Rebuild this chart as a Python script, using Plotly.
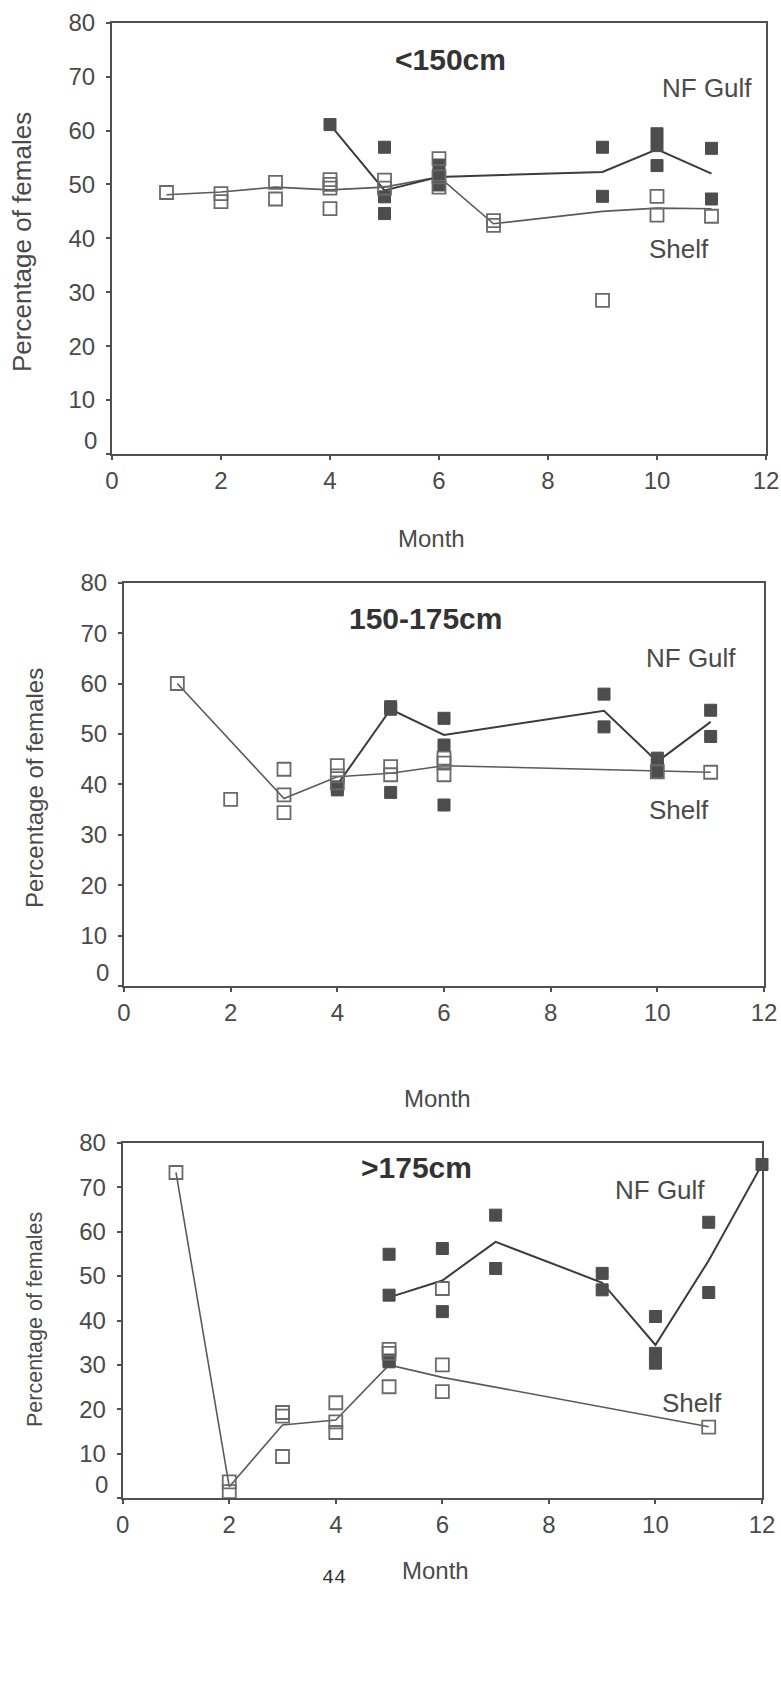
import plotly.graph_objects as go

# ---------------- data ----------------
# Panel 1: <150cm
p1_shelf_month = [1, 2, 2, 3, 3, 4, 4, 4, 4, 5, 5, 6, 6, 6, 7, 7, 9, 10, 10, 11]
p1_shelf_pct   = [48.5, 48.3, 46.8, 50.4, 47.3, 50.9, 50.0, 49.3, 45.5, 50.8, 49.3, 54.8, 51.4, 49.5, 43.3, 42.4, 28.5, 47.8, 44.3, 44.1]
p1_gulf_month  = [4, 5, 5, 5, 6, 6, 6, 9, 9, 10, 10, 10, 11, 11]
p1_gulf_pct    = [61.1, 56.9, 47.7, 44.6, 53.6, 51.8, 49.9, 56.9, 47.8, 59.4, 57.2, 53.5, 56.7, 47.3]
p1_shelf_line_month = [1, 2, 3, 4, 5, 6, 7, 9, 10, 11]
p1_shelf_line_pct   = [48.1, 48.6, 49.5, 49.0, 49.5, 51.4, 42.7, 45.0, 45.6, 45.5]
p1_gulf_line_month  = [4, 5, 6, 9, 10, 11]
p1_gulf_line_pct    = [61.1, 48.9, 51.4, 52.3, 56.5, 52.0]

# Panel 2: 150-175cm
p2_shelf_month = [1, 2, 3, 3, 3, 4, 4, 4, 5, 5, 6, 6, 6, 10, 11]
p2_shelf_pct   = [60.0, 37.0, 43.0, 37.9, 34.4, 43.7, 41.7, 40.3, 43.5, 41.9, 45.2, 44.2, 41.9, 42.5, 42.4]
p2_gulf_month  = [4, 4, 5, 5, 5, 6, 6, 6, 9, 9, 10, 10, 10, 11, 11]
p2_gulf_pct    = [39.5, 38.9, 55.4, 54.9, 38.4, 53.1, 47.8, 35.9, 57.9, 51.4, 45.2, 43.8, 42.5, 54.7, 49.5]
p2_shelf_line_month = [1, 3, 4, 5, 6, 10, 11]
p2_shelf_line_pct   = [60.0, 37.2, 41.5, 42.2, 43.7, 42.7, 42.4]
p2_gulf_line_month  = [4, 5, 6, 9, 10, 11]
p2_gulf_line_pct    = [39.9, 54.9, 49.8, 54.6, 44.5, 52.4]

# Panel 3: >175cm
p3_shelf_month = [1, 2, 2, 3, 3, 3, 4, 4, 4, 5, 5, 5, 6, 6, 6, 11]
p3_shelf_pct   = [73.3, 3.7, 1.5, 19.3, 18.5, 9.4, 21.5, 17.2, 14.8, 33.5, 32.6, 25.1, 47.2, 30.0, 24.0, 16.0]
p3_gulf_month  = [5, 5, 5, 5, 6, 6, 7, 7, 9, 9, 10, 10, 10, 11, 11, 12]
p3_gulf_pct    = [54.9, 45.7, 31.1, 30.7, 56.2, 42.0, 63.7, 51.7, 50.6, 46.9, 40.9, 32.6, 30.4, 62.1, 46.3, 75.1]
p3_shelf_line_month = [1, 2, 3, 4, 5, 6, 11]
p3_shelf_line_pct   = [73.3, 2.6, 16.5, 17.6, 30.0, 27.2, 16.1]
p3_gulf_line_month  = [5, 6, 7, 9, 10, 11, 12]
p3_gulf_line_pct    = [45.2, 49.0, 57.7, 48.5, 34.5, 53.5, 75.1]

panel_titles = ["<150cm", "150-175cm", ">175cm"]
x_ticks = [0, 2, 4, 6, 8, 10, 12]
y_ticks = [0, 10, 20, 30, 40, 50, 60, 70, 80]
y_title = "Percentage of females"
x_title = "Month"
page_number = "44"

# ---------------- layout helpers ----------------
W, H = 781, 1695
FONT = "Liberation Sans, Arial, sans-serif"
AX = "#505050"
TXT = "#4a4a4a"

def px_x(p):
    return p / W

def px_y(p):
    return 1 - p / H

# plot-area pixel boxes (left, right, top, bottom)
boxes = [(112, 766, 22.7, 454.0), (124, 764, 582.7, 986.0), (122.7, 762, 1142.7, 1498.3)]

panels = [
    (p1_shelf_month, p1_shelf_pct, p1_gulf_month, p1_gulf_pct,
     p1_shelf_line_month, p1_shelf_line_pct, p1_gulf_line_month, p1_gulf_line_pct),
    (p2_shelf_month, p2_shelf_pct, p2_gulf_month, p2_gulf_pct,
     p2_shelf_line_month, p2_shelf_line_pct, p2_gulf_line_month, p2_gulf_line_pct),
    (p3_shelf_month, p3_shelf_pct, p3_gulf_month, p3_gulf_pct,
     p3_shelf_line_month, p3_shelf_line_pct, p3_gulf_line_month, p3_gulf_line_pct),
]

fig = go.Figure()
layout = dict(
    width=W, height=H, margin=dict(l=0, r=0, t=0, b=0, autoexpand=False),
    paper_bgcolor="white", plot_bgcolor="white", showlegend=False,
    font=dict(family=FONT, color=TXT),
)
annotations = []

for i, (sm, sp, gm, gp, slm, slp, glm, glp) in enumerate(panels):
    n = i + 1
    xa, ya = f"x{n}" if n > 1 else "x", f"y{n}" if n > 1 else "y"
    l, r, t, b = boxes[i]
    # lines
    fig.add_trace(go.Scatter(x=slm, y=slp, mode="lines", xaxis=xa, yaxis=ya,
                             line=dict(color="#5a5a5a", width=1.6), cliponaxis=False))
    fig.add_trace(go.Scatter(x=glm, y=glp, mode="lines", xaxis=xa, yaxis=ya,
                             line=dict(color="#3c3c3c", width=2.0), cliponaxis=False))
    # markers
    fig.add_trace(go.Scatter(x=gm, y=gp, mode="markers", xaxis=xa, yaxis=ya,
                             marker=dict(symbol="square", size=12, color="#4d4d4d",
                                         line=dict(color="#4d4d4d", width=1)),
                             cliponaxis=False))
    fig.add_trace(go.Scatter(x=sm, y=sp, mode="markers", xaxis=xa, yaxis=ya,
                             marker=dict(symbol="square-open", size=13, color="#6a6a6a",
                                         line=dict(width=1.8)),
                             cliponaxis=False))

    key_x = "xaxis" if n == 1 else f"xaxis{n}"
    key_y = "yaxis" if n == 1 else f"yaxis{n}"
    layout[key_x] = dict(
        domain=[px_x(l), px_x(r)], anchor=ya, range=[0, 12], automargin=False,
        tickvals=x_ticks, ticktext=[str(v) for v in x_ticks],
        ticks="outside", ticklen=4, tickwidth=2, tickcolor=AX,
        showline=True, linecolor=AX, linewidth=2, mirror=True,
        showgrid=False, zeroline=False,
        tickfont=dict(size=24, color=TXT, family=FONT),
    )
    layout[key_y] = dict(
        domain=[px_y(b), px_y(t)], anchor=xa, range=[0, 80], automargin=False,
        tickvals=y_ticks, ticktext=["" if v == 0 else str(v) for v in y_ticks],
        ticks="outside", ticklen=4, tickwidth=2, tickcolor=AX,
        showline=True, linecolor=AX, linewidth=2, mirror=True,
        showgrid=False, zeroline=False, ticklabelstandoff=6,
        tickfont=dict(size=24, color=TXT, family=FONT),
    )
    # elevated "0" label
    annotations.append(dict(text="0", xref=f"{xa} domain", yref=ya, x=0, y=0,
                            xanchor="right", yanchor="middle", xshift=-13, yshift=14,
                            showarrow=False, font=dict(size=24, color=TXT, family=FONT)))

# panel titles and series labels (data coordinates)
title_pos = [(6.21, 73.1), (5.65, 72.9), (5.51, 74.5)]
gulf_pos = [(11.78, 67.8, "right"), (11.51, 65.0, "right"), (9.2, 69.4, "left")]
shelf_pos = [(9.82, 38.1, "left"), (9.8, 34.9, "left"), (10.08, 21.5, "left")]
for i in range(3):
    n = i + 1
    xa, ya = ("x", "y") if n == 1 else (f"x{n}", f"y{n}")
    tx, ty = title_pos[i]
    annotations.append(dict(text=f"<b>{panel_titles[i]}</b>", xref=xa, yref=ya, x=tx, y=ty,
                            xanchor="center", yanchor="middle", showarrow=False,
                            font=dict(size=30, color="#333333", family=FONT)))
    gx, gy, ga = gulf_pos[i]
    annotations.append(dict(text="NF Gulf", xref=xa, yref=ya, x=gx, y=gy,
                            xanchor=ga, yanchor="middle", showarrow=False,
                            font=dict(size=26, color=TXT, family=FONT)))
    sx, sy, sa = shelf_pos[i]
    annotations.append(dict(text="Shelf", xref=xa, yref=ya, x=sx, y=sy,
                            xanchor=sa, yanchor="middle", showarrow=False,
                            font=dict(size=26, color=TXT, family=FONT)))

# axis titles (pixel positions)
ytitle_px = [(22, 242, 26), (35, 788, 24), (35, 1320, 21.5)]
xtitle_px = [(431, 538), (437, 1098), (435, 1570)]
for (xp, yp, fs) in ytitle_px:
    annotations.append(dict(text=y_title, xref="paper", yref="paper", x=px_x(xp), y=px_y(yp),
                            xanchor="center", yanchor="middle", textangle=-90, showarrow=False,
                            font=dict(size=fs, color=TXT, family=FONT)))
for (xp, yp) in xtitle_px:
    annotations.append(dict(text=x_title, xref="paper", yref="paper", x=px_x(xp), y=px_y(yp),
                            xanchor="center", yanchor="middle", showarrow=False,
                            font=dict(size=24, color=TXT, family=FONT)))
annotations.append(dict(text=page_number, xref="paper", yref="paper", x=px_x(334), y=px_y(1577),
                        xanchor="center", yanchor="middle", showarrow=False,
                        font=dict(size=20, color="#333333", family="Liberation Mono, monospace")))

layout["annotations"] = annotations
fig.update_layout(**layout)
fig.write_html("out.html")
